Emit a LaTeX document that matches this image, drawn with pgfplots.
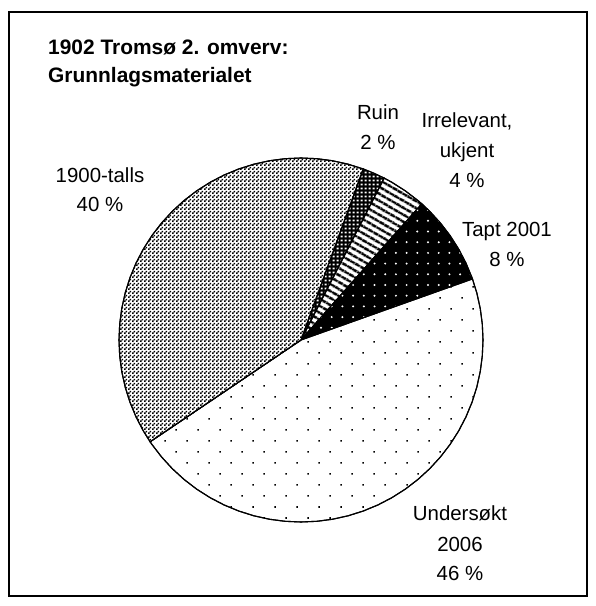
\documentclass[border=0pt]{standalone}
\usepackage{pgfplots}
\pgfplotsset{compat=1.18}
\usepackage{fontspec}
\setmainfont{Liberation Sans}
\usetikzlibrary{patterns,patterns.meta}

\pgfdeclarepatternformonly{finechecker}{\pgfpointorigin}{\pgfqpoint{4bp}{4bp}}{\pgfqpoint{4bp}{4bp}}{%
  \pgfpathrectangle{\pgfpointorigin}{\pgfqpoint{2bp}{2bp}}%
  \pgfpathrectangle{\pgfqpoint{2bp}{2bp}}{\pgfqpoint{2bp}{2bp}}%
  \pgfusepath{fill}}
\pgfdeclarepatternformonly{gridsquares}{\pgfpointorigin}{\pgfqpoint{4bp}{4bp}}{\pgfqpoint{4bp}{4bp}}{%
  \pgfpathrectangle{\pgfqpoint{0.9bp}{0.9bp}}{\pgfqpoint{2.2bp}{2.2bp}}%
  \pgfusepath{fill}}

\begin{document}
\begin{tikzpicture}
\begin{axis}[
  x=1bp, y=1bp,
  xmin=-301, xmax=295, ymin=-266, ymax=340,
  anchor=origin, at={(0,0)},
  hide axis, clip=false,
  data cs=polar,
]
% pie slices: angle (deg), radius (px); Ruin 2 %, Irrelevant 4 %, Tapt 8 %, Undersokt 46 %, 1900-talls 40 %
% Ruin
\addplot[draw=black, line width=1.1bp, fill=black, postaction={pattern=gridsquares, pattern color=white}]
  coordinates {(0,0) (70,182) (66.4,182) (62.8,182) (0,0)} -- cycle;
% Irrelevant, ukjent
\addplot[draw=black, line width=1.1bp, fill=white, postaction={pattern={Lines[angle=-30,distance=6bp,line width=3bp]}, pattern color=black}]
  coordinates {(0,0) (62.8,182) (60,182) (55,182) (50,182) (48.4,182) (0,0)} -- cycle;
% Tapt 2001
\addplot[draw=black, line width=1.1bp, fill=black, postaction={pattern={Dots[radius=1.1bp,distance=10.7bp]}, pattern color=white}]
  coordinates {(0,0) (48.4,182) (45,182) (40,182) (35,182) (30,182) (25,182) (20,182) (19.6,182) (0,0)} -- cycle;
% Undersokt 2006
\addplot[draw=black, line width=1.1bp, fill=white, postaction={pattern={Dots[radius=1.1bp,distance=15.56bp,angle=45]}, pattern color=black}]
  coordinates {(0,0) (19.6,182) (15,182) (10,182) (5,182) (0,182) (-5,182) (-10,182) (-15,182) (-20,182) (-25,182) (-30,182) (-35,182) (-40,182) (-45,182) (-50,182) (-55,182) (-60,182) (-65,182) (-70,182) (-75,182) (-80,182) (-85,182) (-90,182) (-95,182) (-100,182) (-105,182) (-110,182) (-115,182) (-120,182) (-125,182) (-130,182) (-135,182) (-140,182) (-145,182) (-146,182) (0,0)} -- cycle;
% 1900-talls
\addplot[draw=black, line width=1.1bp, fill=white, postaction={pattern=finechecker, pattern color=black}]
  coordinates {(0,0) (-146,182) (-150,182) (-155,182) (-160,182) (-165,182) (-170,182) (-175,182) (-180,182) (-185,182) (-190,182) (-195,182) (-200,182) (-205,182) (-210,182) (-215,182) (-220,182) (-225,182) (-230,182) (-235,182) (-240,182) (-245,182) (-250,182) (-255,182) (-260,182) (-265,182) (-270,182) (-275,182) (-280,182) (-285,182) (-290,182) (0,0)} -- cycle;

% frame and bounding box
\path (axis cs:-301,-266) rectangle (axis cs:295,340);
\draw[line width=2bp] (axis cs:-292,328) rectangle (axis cs:286,-256);

% title
\begin{scope}[every node/.style={inner sep=0pt, font=\fontsize{21}{28}\selectfont\bfseries}]
\node[anchor=base west] at (axis cs:-253,285) {1902 Tromsø 2. omverv:};
\node[anchor=base west] at (axis cs:-253,257) {Grunnlagsmaterialet};
\end{scope}

% labels
\begin{scope}[every node/.style={inner sep=0pt, anchor=base, font=\fontsize{20.5}{30}\selectfont}]
\node at (axis cs:77,220) {Ruin};
\node at (axis cs:77,190) {2 \%};
\node at (axis cs:166,212) {Irrelevant,};
\node at (axis cs:166,182) {ukjent};
\node at (axis cs:166,152) {4 \%};
\node at (axis cs:206,103) {Tapt 2001};
\node at (axis cs:206,73) {8 \%};
\node at (axis cs:159,-180) {Undersøkt};
\node at (axis cs:159,-211) {2006};
\node at (axis cs:159,-240) {46 \%};
\node at (axis cs:-201,157) {1900-talls};
\node at (axis cs:-201,128) {40 \%};
\end{scope}
\end{axis}
\end{tikzpicture}
\end{document}
